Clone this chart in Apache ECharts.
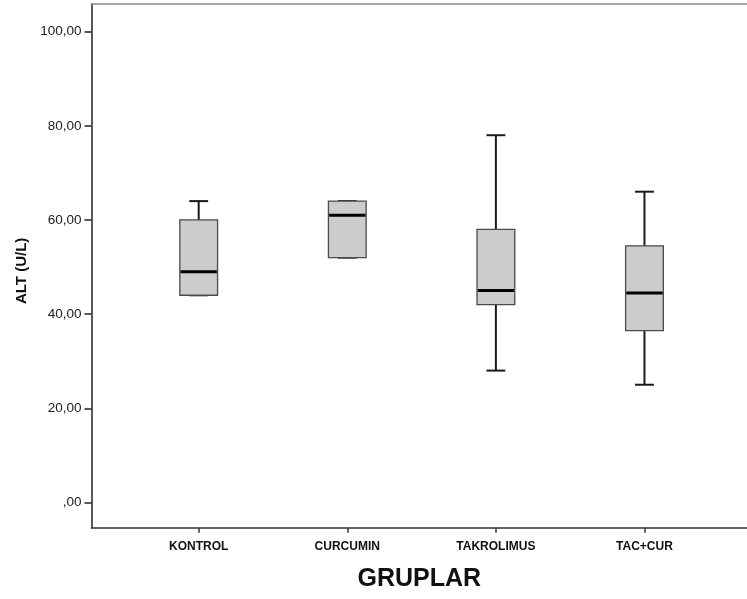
<!DOCTYPE html>
<html>
<head>
<meta charset="utf-8">
<script src="https://cdn.jsdelivr.net/npm/echarts@6/dist/echarts.min.js"></script>
<style>
  html, body { margin: 0; padding: 0; background: #fff; }
  #chart { width: 747px; height: 599px; }
</style>
</head>
<body>
<div id="chart"></div>
<script>
// ---- data ----
var categories = ['KONTROL', 'CURCUMIN', 'TAKROLIMUS', 'TAC+CUR'];
var minVals    = [44, 52, 28, 25];
var q1Vals     = [44, 52, 42, 36.5];
var medianVals = [49, 61, 45, 44.5];
var q3Vals     = [60, 64, 58, 54.5];
var maxVals    = [64, 64, 78, 66];
var yTicks     = [0, 20, 40, 60, 80, 100];
var xTicks     = [0, 1, 2, 3];

var boxData = categories.map(function (c, i) {
  return [i, minVals[i], q1Vals[i], medianVals[i], q3Vals[i], maxVals[i]];
});

function renderBox(params, api) {
  var x = api.value(0);
  var vMin = api.value(1), vQ1 = api.value(2), vMed = api.value(3), vQ3 = api.value(4), vMax = api.value(5);
  var unit = api.size([1, 0])[0];
  var half = unit * 0.127;
  var capHalf = half / 2;
  var pMin = api.coord([x, vMin]);
  var pQ1 = api.coord([x, vQ1]);
  var pMed = api.coord([x, vMed]);
  var pQ3 = api.coord([x, vQ3]);
  var pMax = api.coord([x, vMax]);
  var cx = pMed[0];
  var whisker = { stroke: '#1a1a1a', lineWidth: 2 };
  var children = [];
  if (vMax > vQ3) {
    children.push({ type: 'line', shape: { x1: cx, y1: pMax[1], x2: cx, y2: pQ3[1] }, style: whisker });
  }
  if (vMin < vQ1) {
    children.push({ type: 'line', shape: { x1: cx, y1: pQ1[1], x2: cx, y2: pMin[1] }, style: whisker });
  }
  children.push({ type: 'line', shape: { x1: cx - capHalf, y1: pMax[1], x2: cx + capHalf, y2: pMax[1] }, style: whisker });
  children.push({ type: 'line', shape: { x1: cx - capHalf, y1: pMin[1], x2: cx + capHalf, y2: pMin[1] }, style: whisker });
  children.push({
    type: 'rect',
    shape: { x: cx - half, y: pQ3[1], width: half * 2, height: pQ1[1] - pQ3[1] },
    style: { fill: '#cccccc', stroke: '#4a4a4a', lineWidth: 1.3 }
  });
  children.push({ type: 'line', shape: { x1: cx - half + 0.7, y1: pMed[1], x2: cx + half - 0.7, y2: pMed[1] }, style: { stroke: '#000', lineWidth: 3 } });
  return { type: 'group', children: children };
}

var chart = echarts.init(document.getElementById('chart'), null, { renderer: 'canvas' });
chart.setOption({
  animation: false,
  backgroundColor: '#ffffff',
  grid: { left: 91.5, top: 4, right: 0, bottom: 71.3 },
  xAxis: [{
    type: 'value',
    min: -0.7214,
    max: 3.690,
    name: 'GRUPLAR',
    nameLocation: 'middle',
    nameGap: 39,
    nameTextStyle: { fontFamily: 'Liberation Sans, Arial, sans-serif', fontWeight: 'bold', fontSize: 25, color: '#111' },
    splitLine: { show: false },
    axisLine: { show: true, onZero: false, lineStyle: { color: '#333', width: 1.5 } },
    axisTick: { show: true, length: 5, customValues: xTicks, lineStyle: { color: '#333', width: 1.5 } },
    axisLabel: {
      customValues: xTicks,
      margin: 13,
      fontFamily: 'Liberation Sans, Arial, sans-serif',
      fontWeight: 'bold',
      fontSize: 12,
      color: '#111',
      formatter: function (v) { return categories[Math.round(v)] || ''; }
    }
  }, {
    type: 'value',
    position: 'top',
    min: -0.7214,
    max: 3.690,
    splitLine: { show: false },
    axisLine: { show: true, onZero: false, lineStyle: { color: '#8a8a8a', width: 1.5 } },
    axisTick: { show: false },
    axisLabel: { show: false }
  }],
  yAxis: {
    type: 'value',
    min: -5.37,
    max: 105.87,
    name: 'ALT (U/L)',
    nameLocation: 'middle',
    nameGap: 62,
    nameRotate: 90,
    nameTextStyle: { fontFamily: 'Liberation Sans, Arial, sans-serif', fontWeight: 'bold', fontSize: 15, color: '#111', padding: [0, 10, 0, 0] },
    splitLine: { show: false },
    axisLine: { show: true, onZero: false, lineStyle: { color: '#222', width: 1.5 } },
    axisTick: { show: true, length: 7, customValues: yTicks, lineStyle: { color: '#222', width: 1.5 } },
    axisLabel: {
      customValues: yTicks,
      margin: 10,
      fontFamily: 'Liberation Sans, Arial, sans-serif',
      fontSize: 13.5,
      color: '#222',
      formatter: function (v) {
        if (v === 0) return ',00';
        return v.toFixed(2).replace('.', ',');
      }
    }
  },
  series: [{
    type: 'custom',
    renderItem: renderBox,
    xAxisIndex: 0,
    encode: { x: 0, y: [1, 2, 3, 4, 5] },
    data: boxData,
    clip: false
  }]
});
</script>
</body>
</html>
